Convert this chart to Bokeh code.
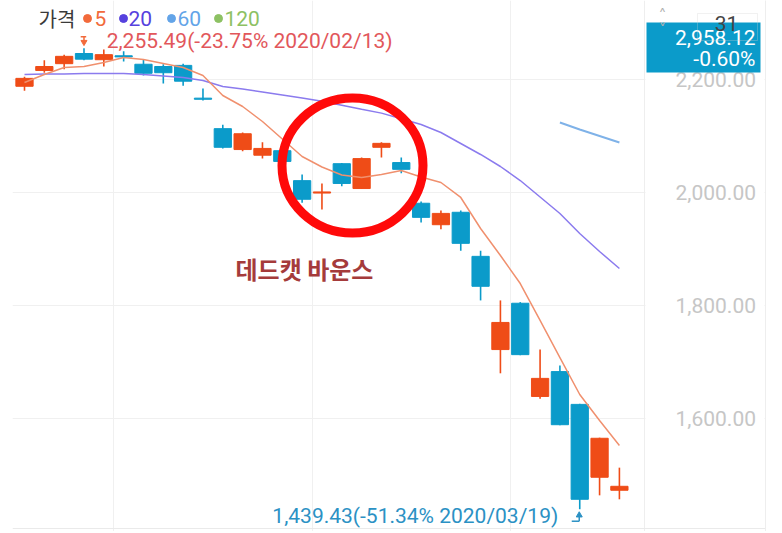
import math
import numpy as np
from bokeh.plotting import figure
from bokeh.models import (Range1d, FixedTicker, NumeralTickFormatter, Label,
                          BoxAnnotation, ColumnDataSource, Span)
from bokeh.embed import file_html
from bokeh.resources import INLINE

# ---------------- data ----------------
dates = ["2020/02/10", "2020/02/11", "2020/02/12", "2020/02/13", "2020/02/14",
         "2020/02/17", "2020/02/18", "2020/02/19", "2020/02/20", "2020/02/21",
         "2020/02/24", "2020/02/25", "2020/02/26", "2020/02/27", "2020/02/28",
         "2020/03/02", "2020/03/03", "2020/03/04", "2020/03/05", "2020/03/06",
         "2020/03/09", "2020/03/10", "2020/03/11", "2020/03/12", "2020/03/13",
         "2020/03/16", "2020/03/17", "2020/03/18", "2020/03/19", "2020/03/20",
         "2020/03/23"]
opens  = [2188, 2216, 2228, 2246, 2235, 2242, 2227, 2223, 2225, 2167,
          2113, 2076, 2066, 2074, 2021, 1999, 2051, 2007, 2080, 2053,
          1981, 1943, 1965, 1887, 1722, 1804, 1639, 1683, 1625, 1496, 1473]
highs  = [2205, 2234, 2244, 2255.49, 2253, 2250, 2235, 2227, 2228, 2184,
          2120, 2106, 2089, 2078, 2032, 2016, 2052, 2062, 2089, 2062,
          1984, 1968, 1968, 1897, 1809, 1806, 1722, 1694, 1626, 1566, 1513]
lows   = [2180, 2212, 2218, 2234, 2223, 2232, 2207, 2193, 2189, 2163,
          2078, 2073, 2060, 2053, 1982, 1970, 2011, 2006, 2062, 2034,
          1947, 1935, 1897, 1809, 1680, 1712, 1635, 1588, 1439.43, 1464, 1457]
closes = [2202, 2223, 2241, 2236, 2244, 2240, 2211, 2212, 2197, 2165,
          2080, 2104, 2078, 2055, 1988, 2001, 2016, 2060, 2087, 2041,
          1956, 1963, 1910, 1834, 1770, 1713, 1671, 1589, 1457, 1565, 1480]
ma5  = [2194.7, 2208.8, 2221.2, 2223.0, 2230.1, 2238.9, 2235.4, 2228.3, 2221.2, 2207.1,
        2171.7, 2152.2, 2125.7, 2094.7, 2063.7, 2045.1, 2031.0, 2026.5, 2031.9, 2038.9,
        2027.4, 2017.7, 1991.2, 1936.3, 1888.5, 1838.9, 1773.5, 1707.9, 1642.5, 1596.5, 1552.2]
ma20 = [2208.8, 2209.7, 2209.7, 2210.6, 2210.6, 2210.6, 2208.8, 2206.2, 2203.5, 2198.2,
        2187.6, 2183.2, 2177.9, 2172.6, 2167.3, 2161.4, 2154.5, 2147.4, 2140.5, 2130.6,
        2120.4, 2106.2, 2086.7, 2067.3, 2046.0, 2021.2, 1992.0, 1962.8, 1927.4, 1895.6, 1865.5]
ma60 = [math.nan] * 27 + [2123.9, 2111.5, 2100.0, 2088.5]
pct_high = -23.75
pct_low = -51.34
legend_names = ["5", "20", "60", "120"]
y_ticks = [1600, 1800, 2000, 2200]
x_grid_ticks = [5.5, 15.5, 25.5]
last_price = "2,958.12"
last_change = "-0.60%"
day_tag = "31"
note_text = "데드캣 바운스"

# ---------------- style ----------------
UP = "#EF4C17"
DOWN = "#0B9BCA"
C_MA5 = "#F0906E"
C_MA20 = "#8B7BEE"
C_MA60 = "#7FB2E8"
LEG_COLORS = ["#F26A3B", "#5641DE", "#63A4E8", "#8DC163"]
GRID = "#F0F0F0"
EDGE = "#EAEAEA"

# page-pixel helpers (used only for placing decorations / the frame)
def dx(px):
    return 1 + (px - 24) / 19.83

def dy(py):
    return 2000 + (192 - py) / 0.565

x_idx = list(range(1, len(dates) + 1))

p = figure(width=780, height=531, output_backend="svg", toolbar_location=None,
           x_range=Range1d(dx(12), dx(765)), y_range=Range1d(dy(531), dy(0)),
           y_axis_location="right", x_axis_location=None,
           min_border_left=12, min_border_right=15, min_border_top=0, min_border_bottom=0,
           background_fill_color="white", border_fill_color="white",
           outline_line_color=None)

# y axis (its line is the right-most border, labels pulled into the price column)
ya = p.yaxis[0]
ya.ticker = FixedTicker(ticks=y_ticks)
ya.formatter = NumeralTickFormatter(format="0,0.00")
ya.major_tick_out = 0
ya.major_tick_in = 0
ya.minor_tick_out = 0
ya.minor_tick_in = 0
ya.major_label_standoff = -90
ya.major_label_text_font = "Roboto"
ya.major_label_text_font_size = "21px"
ya.major_label_text_color = "#C6C6C6"
ya.axis_line_color = "#EEEEEE"

p.ygrid.grid_line_color = GRID
for g in p.xgrid:
    g.ticker = FixedTicker(ticks=x_grid_ticks)
    g.grid_line_color = GRID

# keep the price column free of grid lines
p.add_layout(BoxAnnotation(left=dx(645), right=dx(764), bottom=dy(531), top=dy(0),
                           fill_color="white", fill_alpha=1, line_alpha=0, level="underlay"))
p.add_layout(Span(location=dx(644), dimension="height", line_color="#EEEEEE",
                  line_width=1, level="underlay"))
p.add_layout(Span(location=dy(528), dimension="width", line_color=EDGE,
                  line_width=1, level="underlay"))

# candles
tops = [max(o, c) for o, c in zip(opens, closes)]
bots = [min(o, c) for o, c in zip(opens, closes)]
cols = [UP if c >= o else DOWN for o, c in zip(opens, closes)]
src = ColumnDataSource(dict(x=x_idx, high=highs, low=lows, top=tops, bottom=bots, color=cols))
p.segment(x0="x", y0="high", x1="x", y1="low", line_color="color", line_width=1.6, source=src)
p.vbar(x="x", width=0.87, top="top", bottom="bottom", fill_color="color",
       line_color="color", line_width=1, source=src)

# moving averages
p.line(x_idx, ma20, line_color=C_MA20, line_width=1.5)
p.line(x_idx, ma60, line_color=C_MA60, line_width=2)
p.line(x_idx, ma5, line_color=C_MA5, line_width=1.5)

# max / min annotations
i_hi = int(np.argmax(highs))
i_lo = int(np.argmin(lows))
x_hi, y_hi = x_idx[i_hi], highs[i_hi]
x_lo, y_lo = x_idx[i_lo], lows[i_lo]
u = 1 / 0.565  # value units per pixel
w = 1 / 19.83  # index units per pixel

# top arrow (down)
p.segment(x0=[x_hi - 3.3 * w], y0=[y_hi + 11.3 * u], x1=[x_hi + 2.2 * w], y1=[y_hi + 11.3 * u],
          line_color=LEG_COLORS[0], line_width=1.5)
p.segment(x0=[x_hi], y0=[y_hi + 11.3 * u], x1=[x_hi], y1=[y_hi + 6 * u],
          line_color=LEG_COLORS[0], line_width=1.5)
p.scatter(x=[x_hi], y=[y_hi + 6 * u], marker="inverted_triangle", size=6,
          fill_color=LEG_COLORS[0], line_color=LEG_COLORS[0])
p.add_layout(Label(x=x_hi + 22.7 * w, y=y_hi + 7 * u,
                   text=f"{y_hi:,.2f}({pct_high:.2f}% {dates[i_hi]})",
                   text_font="Roboto", text_font_size="21px", text_color="#E2575B",
                   text_align="left", text_baseline="middle"))

# bottom arrow (up)
p.segment(x0=[x_lo - 0.5 * w], y0=[y_lo - 12 * u], x1=[x_lo - 8 * w], y1=[y_lo - 12 * u],
          line_color="#2B91C4", line_width=1.5)
p.segment(x0=[x_lo - 0.5 * w], y0=[y_lo - 12 * u], x1=[x_lo - 0.5 * w], y1=[y_lo - 6 * u],
          line_color="#2B91C4", line_width=1.5)
p.scatter(x=[x_lo - 0.5 * w], y=[y_lo - 6 * u], marker="triangle", size=6,
          fill_color="#2B91C4", line_color="#2B91C4")
p.add_layout(Label(x=x_lo - 21.5 * w, y=y_lo - 7 * u,
                   text=f"{y_lo:,.2f}({pct_low:.2f}% {dates[i_lo]})",
                   text_font="Roboto", text_font_size="21px", text_color="#2B91C4",
                   text_align="right", text_baseline="middle"))

# red circle around the bounce
p.ellipse(x=[dx(352)], y=[dy(165)], width=141, height=135,
          width_units="screen", height_units="screen",
          fill_color=None, line_color="#FF0A0A", line_width=9)
p.add_layout(Label(x=dx(235), y=dy(268), text=note_text,
                   text_font="Noto Sans CJK KR", text_font_size="24px",
                   text_font_style="bold", text_color="#A53B3B",
                   text_align="left", text_baseline="middle"))

# legend
p.add_layout(Label(x=dx(38), y=dy(18), text="가격", text_font="Noto Sans CJK KR",
                   text_font_size="20px", text_color="#3A3A3A",
                   text_align="left", text_baseline="middle"))
dot_px = [87, 123, 171, 218]
txt_px = [94, 128, 177, 224]
p.scatter(x=[dx(v) for v in dot_px], y=[dy(18)] * 4, size=8,
          fill_color=LEG_COLORS, line_color=LEG_COLORS)
for name, tx, col in zip(legend_names, txt_px, LEG_COLORS):
    p.add_layout(Label(x=dx(tx), y=dy(18), text=name, text_font="Roboto",
                       text_font_size="21px", text_color=col,
                       text_align="left", text_baseline="middle"))

# last-price tag on the right
p.add_layout(BoxAnnotation(left=dx(646), right=dx(760), bottom=dy(72), top=dy(22),
                           fill_color="#0B9BCA", fill_alpha=1, line_alpha=0))
p.add_layout(Label(x=dx(755), y=dy(37), text=last_price, text_font="Roboto",
                   text_font_size="21px", text_color="white",
                   text_align="right", text_baseline="middle"))
p.add_layout(Label(x=dx(755), y=dy(58), text=last_change, text_font="Roboto",
                   text_font_size="21px", text_color="white",
                   text_align="right", text_baseline="middle"))
p.add_layout(BoxAnnotation(left=dx(697), right=dx(757), bottom=dy(40), top=dy(13),
                           fill_alpha=0, line_color="#D0D0D0", line_width=1))
p.add_layout(Label(x=dx(726), y=dy(23), text=day_tag, text_font="Roboto",
                   text_font_size="21px", text_color="#444444",
                   text_align="center", text_baseline="middle"))
p.add_layout(Label(x=dx(662), y=dy(15), text="˄", text_font="DejaVu Sans",
                   text_font_size="16px", text_color="#B0B0B0",
                   text_align="center", text_baseline="middle"))
p.add_layout(Label(x=dx(662), y=dy(29), text="˅", text_font="DejaVu Sans",
                   text_font_size="16px", text_color="#B0B0B0",
                   text_align="center", text_baseline="middle"))

open("out.html", "w").write(file_html(p, INLINE))
